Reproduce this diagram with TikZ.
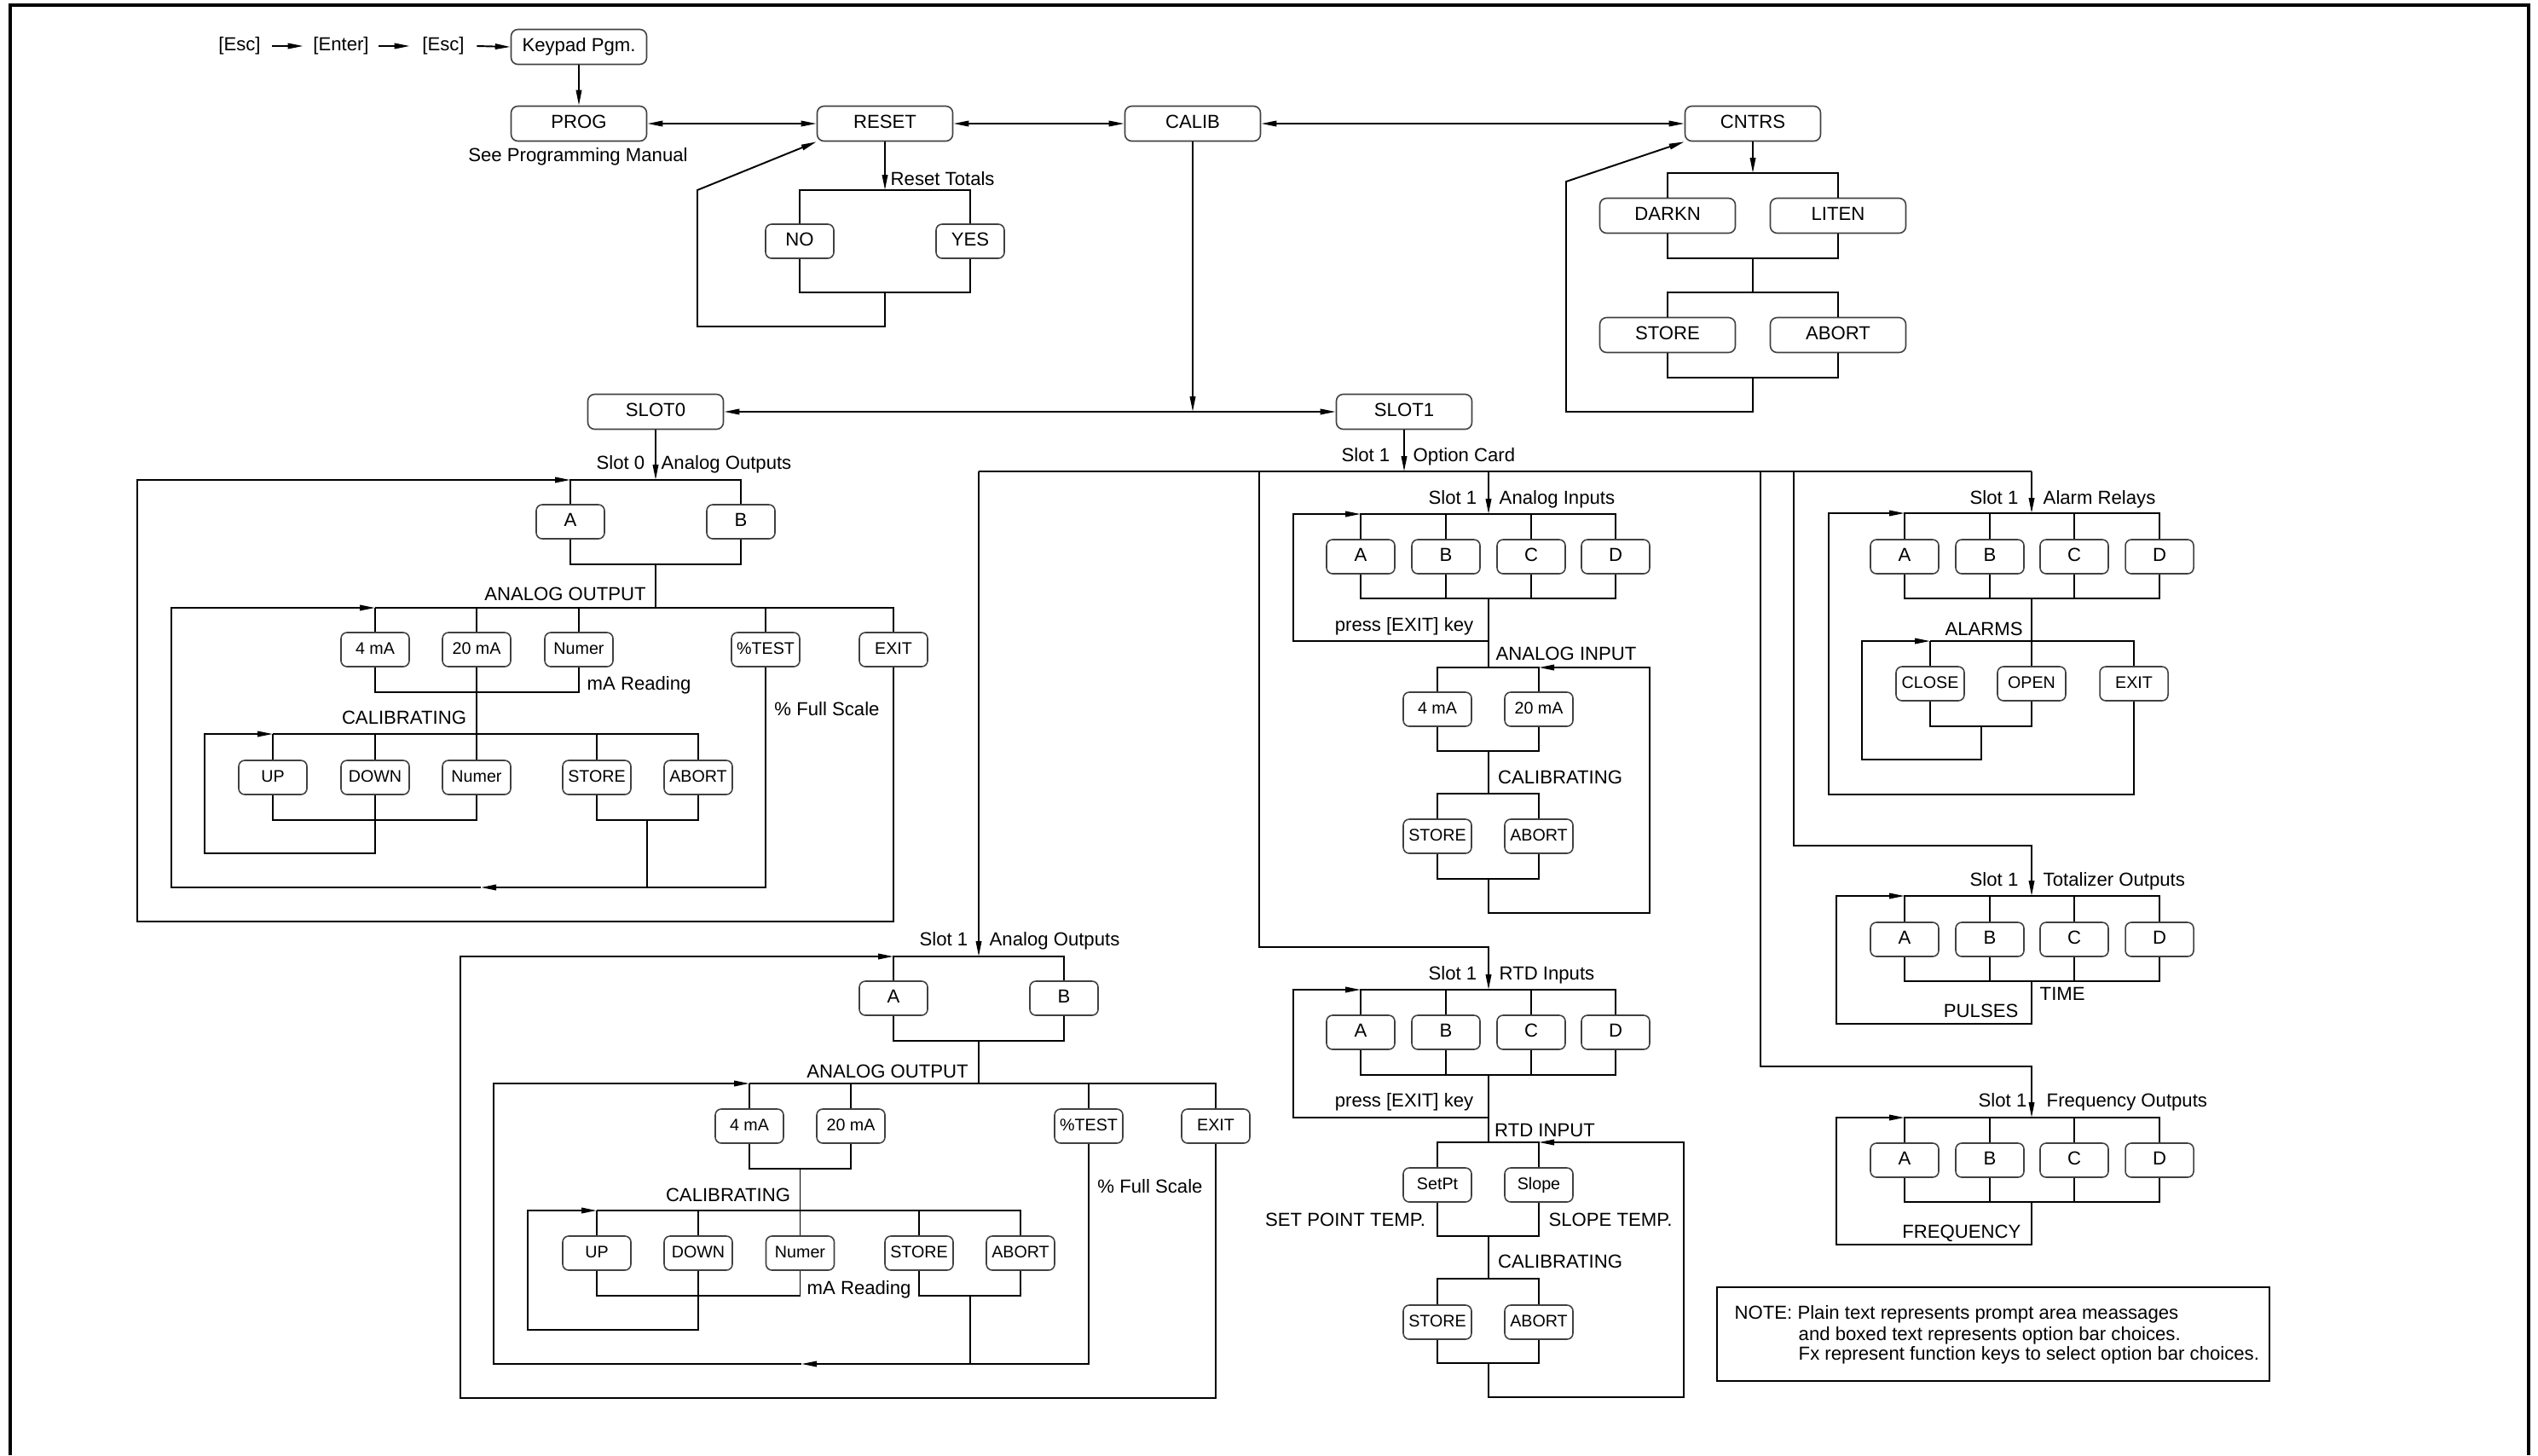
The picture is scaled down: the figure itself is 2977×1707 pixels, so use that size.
\documentclass[tikz,border=0pt]{standalone}
\usepackage{fontspec}
\setmainfont{Liberation Sans}
\usetikzlibrary{arrows.meta}
\newcommand\fA{\fontsize{6.3}{7.5}\selectfont}
\newcommand\fB{\fontsize{5.6}{6.7}\selectfont}
\tikzset{
 ln/.style={line width=0.55pt},
 arw/.style={ln,-{Triangle[length=1.8mm,width=0.65mm]}},
 darw/.style={ln,{Triangle[length=1.8mm,width=0.65mm]}-{Triangle[length=1.8mm,width=0.65mm]}},
 bbox/.style={draw=black!75,line width=0.45pt,rounded corners=0.8mm,minimum width=15.9mm,minimum height=4.1mm,inner sep=0pt,font=\fA,text height=1.6mm,text depth=0.45mm},
 sbox/.style={draw=black!75,line width=0.45pt,rounded corners=0.7mm,minimum width=8mm,minimum height=4mm,inner sep=0pt,font=\fB,text height=1.45mm,text depth=0.4mm},
 lbox/.style={sbox,font=\fA,text height=1.6mm,text depth=0.45mm},
 txt/.style={inner sep=0pt,font=\fA,text height=1.6mm,text depth=0.45mm},
}
\begin{document}
\begin{tikzpicture}[x=0.1mm,y=-0.1mm]
\useasboundingbox (0,0) rectangle (2977,1707);
\draw[line width=1.1pt] (12,1707) -- (12,6) -- (2966,6) -- (2966,1707);

% ---------- top row ----------
\node[txt,inner xsep=1.3mm] (esc1) at (281,54) {[Esc]};
\node[txt,inner xsep=1.1mm] (ent) at (400,54) {[Enter]};
\node[txt,inner xsep=1.4mm] (esc2) at (520,54) {[Esc]};
\node[bbox] (kp) at (679,55) {Keypad Pgm.};
\draw[arw] (esc1.east) -- (ent.west);
\draw[arw] (ent.east) -- (esc2.west);
\draw[arw] (esc2.east) -- (kp.west);
\node[bbox] (prog) at (679,145) {PROG};
\node[txt] (seeprog) at (678,184) {See Programming Manual};
\draw[arw] (kp) -- (prog);
\node[bbox] (reset) at (1038,145) {RESET};
\node[bbox] (calib) at (1399,145) {CALIB};
\node[bbox] (cntrs) at (2056,145) {CNTRS};
\draw[darw] (prog) -- (reset);
\draw[darw] (reset) -- (calib);
\draw[darw] (calib) -- (cntrs);

% ---------- reset ----------
\coordinate (rt) at (1038,223);
\draw[arw] (reset) -- (rt);
\node[txt,anchor=west] (rtl) at (1044,212) {Reset Totals};
\node[lbox] (no) at (938,283) {NO};
\node[lbox] (yes) at (1138,283) {YES};
\draw[ln] (no) -- (938,223) -- (1138,223) -- (yes);
\draw[ln] (no) -- (938,343) -- (1138,343) -- (yes);
\draw[arw] (1038,343) -- (1038,383) -- (818,383) -- (818,223) -- (reset.south west);

% ---------- slots ----------
\node[bbox] (slot0) at (769,483) {SLOT0};
\node[bbox] (slot1) at (1647,483) {SLOT1};
\draw[darw] (slot0) -- (slot1);
\coordinate (cj) at (1399,483);
\draw[arw] (calib) -- (cj);

% ---------- counters ----------
\node[bbox] (darkn) at (1956,253) {DARKN};
\node[bbox] (liten) at (2156,253) {LITEN};
\node[bbox] (cstore) at (1956,393) {STORE};
\node[bbox] (cabort) at (2156,393) {ABORT};
\draw[arw] (cntrs) -- (2056,203);
\draw[ln] (darkn) -- (1956,203) -- (2156,203) -- (liten);
\draw[ln] (darkn) -- (1956,303) -- (2156,303) -- (liten);
\draw[ln] (2056,303) -- (2056,343);
\draw[ln] (cstore) -- (1956,343) -- (2156,343) -- (cabort);
\draw[ln] (cstore) -- (1956,443) -- (2156,443) -- (cabort);
\draw[arw] (2056,443) -- (2056,483) -- (1837,483) -- (1837,213) -- (cntrs.south west);

% ---------- slot 0 analog outputs ----------
\coordinate (s0j) at (769,563);
\draw[arw] (slot0) -- (s0j);
\node[txt,anchor=east] (s0l) at (757,545) {Slot 0};
\node[txt,anchor=west] (s0r) at (775,545) {Analog Outputs};
\node[lbox] (a0) at (669,612) {A};
\node[lbox] (b0) at (869,612) {B};
\draw[ln] (a0) -- (669,563) -- (869,563) -- (b0);
\draw[ln] (a0) -- (669,662) -- (869,662) -- (b0);
\draw[ln] (769,662) -- (769,713);
\node[txt] (ao0) at (663,699) {ANALOG OUTPUT};
\node[sbox] (ma4a) at (440,762) {4 mA};
\node[sbox] (ma20a) at (559,762) {20 mA};
\node[sbox] (numa) at (679,762) {Numer};
\node[sbox] (testa) at (898,762) {\%TEST};
\node[sbox] (exita) at (1048,762) {EXIT};
\draw[ln] (440,713) -- (1048,713) -- (exita);
\draw[ln] (440,713) -- (ma4a);
\draw[ln] (559,713) -- (ma20a);
\draw[ln] (679,713) -- (numa);
\draw[ln] (898,713) -- (testa);
\draw[ln] (ma4a) -- (440,812) -- (679,812) -- (numa);
\node[txt,anchor=west] (mara) at (688,804) {mA Reading};
\node[txt] (fsa) at (970,834) {\% Full Scale};
\node[txt] (cala) at (474,844) {CALIBRATING};
\node[sbox] (upa) at (320,912) {UP};
\node[sbox] (dna) at (440,912) {DOWN};
\node[sbox] (nma) at (559,912) {Numer};
\node[sbox] (sta) at (700,912) {STORE};
\node[sbox] (aba) at (819,912) {ABORT};
\draw[ln] (ma20a) -- (nma);
\draw[ln] (320,861) -- (819,861) -- (aba);
\draw[ln] (320,861) -- (upa);
\draw[ln] (440,861) -- (dna);
\draw[ln] (700,861) -- (sta);
\draw[ln] (upa) -- (320,962) -- (559,962) -- (nma);
\draw[ln] (sta) -- (700,962) -- (819,962) -- (aba);
\draw[ln] (759,962) -- (759,1041);
\draw[arw] (dna) -- (440,1001) -- (240,1001) -- (240,861) -- (320,861);
\draw[arw] (testa) -- (898,1041) -- (564,1041);
\draw[arw] (564,1041) -- (201,1041) -- (201,713) -- (440,713);
\draw[arw] (exita) -- (1048,1081) -- (161,1081) -- (161,563) -- (669,563);

% ---------- option card distribution ----------
\draw[arw] (slot1) -- (1647,553);
\node[txt,anchor=east] (s1l) at (1631,536) {Slot 1};
\node[txt,anchor=west] (s1r) at (1657,536) {Option Card};
\draw[ln] (1148,553) -- (2383,553);

% ---------- slot 1 analog outputs ----------
\draw[arw] (1148,553) -- (1148,1122);
\node[txt,anchor=east] (aol) at (1136,1104) {Slot 1};
\node[txt,anchor=west] (aor) at (1160,1104) {Analog Outputs};
\node[lbox] (a1) at (1048,1171) {A};
\node[lbox] (b1) at (1248,1171) {B};
\draw[ln] (a1) -- (1048,1122) -- (1248,1122) -- (b1);
\draw[ln] (a1) -- (1048,1221) -- (1248,1221) -- (b1);
\draw[ln] (1148,1221) -- (1148,1271);
\node[txt] (ao1) at (1041,1259) {ANALOG OUTPUT};
\node[sbox] (ma4b) at (879,1321) {4 mA};
\node[sbox] (ma20b) at (998,1321) {20 mA};
\node[sbox] (testb) at (1277,1321) {\%TEST};
\node[sbox] (exitb) at (1426,1321) {EXIT};
\draw[ln] (879,1271) -- (1426,1271) -- (exitb);
\draw[ln] (879,1271) -- (ma4b);
\draw[ln] (998,1271) -- (ma20b);
\draw[ln] (1277,1271) -- (testb);
\draw[ln] (ma4b) -- (879,1371) -- (998,1371) -- (ma20b);
\node[txt] (calb) at (854,1404) {CALIBRATING};
\node[txt] (fsb) at (1349,1394) {\% Full Scale};
\node[sbox] (upb) at (700,1470) {UP};
\node[sbox] (dnb) at (819,1470) {DOWN};
\node[sbox] (nmb) at (938.5,1470) {Numer};
\node[sbox] (stb) at (1078,1470) {STORE};
\node[sbox] (abb) at (1197,1470) {ABORT};
\draw[ln] (938.5,1371) -- (nmb);
\draw[ln] (700,1420) -- (1197,1420) -- (abb);
\draw[ln] (700,1420) -- (upb);
\draw[ln] (819,1420) -- (dnb);
\draw[ln] (1078,1420) -- (stb);
\draw[ln] (upb) -- (700,1520) -- (938.5,1520) -- (nmb);
\node[txt,anchor=west] (marb) at (946,1513) {mA Reading};
\draw[ln] (stb) -- (1078,1520) -- (1197,1520) -- (abb);
\draw[ln] (1138,1520) -- (1138,1600);
\draw[arw] (dnb) -- (819,1560) -- (619,1560) -- (619,1420) -- (700,1420);
\draw[arw] (testb) -- (1277,1600) -- (940,1600);
\draw[arw] (940,1600) -- (579,1600) -- (579,1271) -- (879,1271);
\draw[arw] (exitb) -- (1426,1640) -- (540,1640) -- (540,1122) -- (1048,1122);

% ---------- analog inputs ----------
\draw[arw] (1746,553) -- (1746,603);
\node[txt,anchor=east] (ail) at (1733,586) {Slot 1};
\node[txt,anchor=west] (air) at (1758,586) {Analog Inputs};
\node[lbox] (aia) at (1596,653) {A};
\node[lbox] (aib) at (1696,653) {B};
\node[lbox] (aic) at (1796,653) {C};
\node[lbox] (aid) at (1895,653) {D};
\draw[ln] (aia) -- (1596,603) -- (1895,603) -- (aid);
\draw[ln] (1696,603) -- (aib);
\draw[ln] (1796,603) -- (aic);
\draw[ln] (aia) -- (1596,702) -- (1895,702) -- (aid);
\draw[ln] (aib) -- (1696,702);
\draw[ln] (aic) -- (1796,702);
\draw[ln] (1746,702) -- (1746,783);
\node[txt] (aiex) at (1647,735) {press [EXIT] key};
\draw[arw] (1746,752) -- (1517,752) -- (1517,603) -- (1596,603);
\node[txt] (aitl) at (1837,769) {ANALOG INPUT};
\node[sbox] (ai4) at (1686,832) {4 mA};
\node[sbox] (ai20) at (1805,832) {20 mA};
\draw[ln] (ai4) -- (1686,783) -- (1805,783) -- (ai20);
\draw[ln] (ai4) -- (1686,881) -- (1805,881) -- (ai20);
\draw[ln] (1746,881) -- (1746,931);
\node[txt] (aical) at (1830,914) {CALIBRATING};
\node[sbox] (ais) at (1686,981) {STORE};
\node[sbox] (aiab) at (1805,981) {ABORT};
\draw[ln] (ais) -- (1686,931) -- (1805,931) -- (aiab);
\draw[ln] (ais) -- (1686,1031) -- (1805,1031) -- (aiab);
\draw[arw] (1746,1031) -- (1746,1071) -- (1935,1071) -- (1935,783) -- (1805,783);

% ---------- RTD inputs ----------
\draw[arw] (1477,553) -- (1477,1111) -- (1746,1111) -- (1746,1161);
\node[txt,anchor=east] (rtdl) at (1733,1144) {Slot 1};
\node[txt,anchor=west] (rtdr) at (1758,1144) {RTD Inputs};
\node[lbox] (ra) at (1596,1211) {A};
\node[lbox] (rb) at (1696,1211) {B};
\node[lbox] (rc) at (1796,1211) {C};
\node[lbox] (rd) at (1895,1211) {D};
\draw[ln] (ra) -- (1596,1161) -- (1895,1161) -- (rd);
\draw[ln] (1696,1161) -- (rb);
\draw[ln] (1796,1161) -- (rc);
\draw[ln] (ra) -- (1596,1261) -- (1895,1261) -- (rd);
\draw[ln] (rb) -- (1696,1261);
\draw[ln] (rc) -- (1796,1261);
\draw[ln] (1746,1261) -- (1746,1340);
\node[txt] (rtdex) at (1647,1293) {press [EXIT] key};
\draw[arw] (1746,1311) -- (1517,1311) -- (1517,1161) -- (1596,1161);
\node[txt] (rtdtl) at (1812,1328) {RTD INPUT};
\node[sbox] (setpt) at (1686,1390) {SetPt};
\node[sbox] (slope) at (1805,1390) {Slope};
\draw[ln] (setpt) -- (1686,1340) -- (1805,1340) -- (slope);
\node[txt] (spt) at (1578,1433) {SET POINT TEMP.};
\node[txt] (slt) at (1889,1433) {SLOPE TEMP.};
\draw[ln] (setpt) -- (1686,1450) -- (1805,1450) -- (slope);
\draw[ln] (1746,1450) -- (1746,1500);
\node[txt] (rcal) at (1830,1482) {CALIBRATING};
\node[sbox] (rst) at (1686,1551) {STORE};
\node[sbox] (rab) at (1805,1551) {ABORT};
\draw[ln] (rst) -- (1686,1500) -- (1805,1500) -- (rab);
\draw[ln] (rst) -- (1686,1599) -- (1805,1599) -- (rab);
\draw[arw] (1746,1599) -- (1746,1639) -- (1975,1639) -- (1975,1340) -- (1805,1340);

% ---------- alarm relays ----------
\draw[arw] (2383,553) -- (2383,602);
\node[txt,anchor=east] (arl) at (2368,586) {Slot 1};
\node[txt,anchor=west] (arr) at (2396,586) {Alarm Relays};
\node[lbox] (ala) at (2234,653) {A};
\node[lbox] (alb) at (2334,653) {B};
\node[lbox] (alc) at (2433,653) {C};
\node[lbox] (ald) at (2533,653) {D};
\draw[ln] (ala) -- (2234,602) -- (2533,602) -- (ald);
\draw[ln] (2334,602) -- (alb);
\draw[ln] (2433,602) -- (alc);
\draw[ln] (ala) -- (2234,702) -- (2533,702) -- (ald);
\draw[ln] (alb) -- (2334,702);
\draw[ln] (alc) -- (2433,702);
\draw[ln] (2383,702) -- (2383,752);
\node[txt] (alm) at (2327,740) {ALARMS};
\node[sbox] (close) at (2264,802) {CLOSE};
\node[sbox] (open) at (2383,802) {OPEN};
\node[sbox] (exitc) at (2503,802) {EXIT};
\draw[ln] (2264,752) -- (2503,752) -- (exitc);
\draw[ln] (2264,752) -- (close);
\draw[ln] (2383,752) -- (open);
\draw[ln] (close) -- (2264,852) -- (2383,852) -- (open);
\draw[arw] (2324,852) -- (2324,891) -- (2184,891) -- (2184,752) -- (2264,752);
\draw[arw] (exitc) -- (2503,932) -- (2145,932) -- (2145,602) -- (2234,602);

% ---------- totalizer outputs ----------
\draw[arw] (2104,553) -- (2104,992) -- (2383,992) -- (2383,1051);
\node[txt,anchor=east] (tol) at (2368,1034) {Slot 1};
\node[txt,anchor=west] (tor) at (2396,1034) {Totalizer Outputs};
\node[lbox] (ta) at (2234,1102) {A};
\node[lbox] (tb) at (2334,1102) {B};
\node[lbox] (tc) at (2433,1102) {C};
\node[lbox] (td) at (2533,1102) {D};
\draw[ln] (ta) -- (2234,1051) -- (2533,1051) -- (td);
\draw[ln] (2334,1051) -- (tb);
\draw[ln] (2433,1051) -- (tc);
\draw[ln] (ta) -- (2234,1151) -- (2533,1151) -- (td);
\draw[ln] (tb) -- (2334,1151);
\draw[ln] (tc) -- (2433,1151);
\draw[arw] (2383,1151) -- (2383,1201) -- (2154,1201) -- (2154,1051) -- (2234,1051);
\node[txt,anchor=west] (time) at (2392,1168) {TIME};
\node[txt,anchor=east] (pulses) at (2368,1188) {PULSES};

% ---------- frequency outputs ----------
\draw[arw] (2065,553) -- (2065,1251) -- (2383,1251) -- (2383,1311);
\node[txt,anchor=east] (fol) at (2378,1293) {Slot 1};
\node[txt,anchor=west] (forr) at (2400,1293) {Frequency Outputs};
\node[lbox] (fa) at (2234,1361) {A};
\node[lbox] (fb) at (2334,1361) {B};
\node[lbox] (fc) at (2433,1361) {C};
\node[lbox] (fd) at (2533,1361) {D};
\draw[ln] (fa) -- (2234,1311) -- (2533,1311) -- (fd);
\draw[ln] (2334,1311) -- (fb);
\draw[ln] (2433,1311) -- (fc);
\draw[ln] (fa) -- (2234,1410) -- (2533,1410) -- (fd);
\draw[ln] (fb) -- (2334,1410);
\draw[ln] (fc) -- (2433,1410);
\draw[arw] (2383,1410) -- (2383,1460) -- (2154,1460) -- (2154,1311) -- (2234,1311);
\node[txt,anchor=east] (freq) at (2371,1447) {FREQUENCY};

% ---------- note ----------
\node[draw,line width=0.5pt,minimum width=64.8mm,minimum height=11mm,inner sep=0pt] (note) at (2338,1565) {};
\node[txt,anchor=west] (n1) at (2034,1542) {NOTE: Plain text represents prompt area meassages};
\node[txt,anchor=west] (n2) at (2109,1567) {and boxed text represents option bar choices.};
\node[txt,anchor=west] (n3) at (2109,1590) {Fx represent function keys to select option bar choices.};
\end{tikzpicture}
\end{document}
